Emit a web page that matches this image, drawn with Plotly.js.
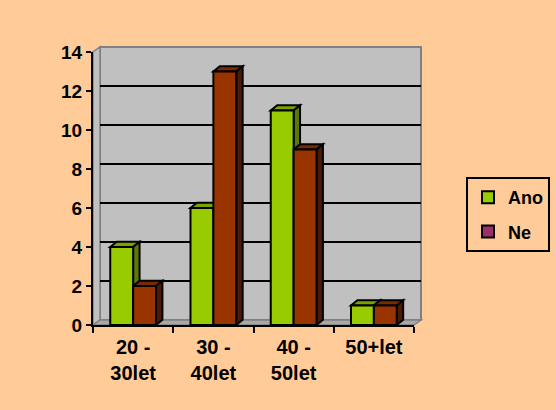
<!DOCTYPE html>
<html>
<head>
<meta charset="utf-8">
<script src="https://cdn.plot.ly/plotly-3.0.1.min.js"></script>
<style>
  html, body { margin: 0; padding: 0; background: #FFCC99; }
  #chart { width: 556px; height: 410px; }
</style>
</head>
<body>
<div id="chart"></div>
<script>
// Survey answers by age group
const categories = ['20 -<br>30let', '30 -<br>40let', '40 -<br>50let', '50+let'];
const seriesNames = ['Ano', 'Ne'];
const anoValues = [4, 6, 11, 1];
const neValues = [2, 13, 9, 1];
const yTickVals = [0, 2, 4, 6, 8, 10, 12, 14];

// Colours: front face, top face, side face
const styles = {
  Ano: { front: '#99CC00', top: '#7AA300', side: '#5C7A00', legend: '#99CC00' },
  Ne:  { front: '#993300', top: '#7A2900', side: '#4D1A00', legend: '#993366' }
};

// Plot frame (pixels) and the 3-D depth of the walls
const W = 556, H = 410;
const frame = { left: 93, right: 421, top: 46, bottom: 325 };
const pw = frame.right - frame.left, ph = frame.bottom - frame.top;
const depthX = 7, depthY = 5;             // wall offset in px
const frontTop = 52;                      // pixel row of the top front tick
const frontX = [0, (pw - depthX) / pw];
const frontY = [0, (frame.bottom - frontTop) / ph];
const backX = [depthX / pw, 1];
const backY = [depthY / ph, (frame.bottom - frontTop + depthY) / ph];

// Bar placement inside each category (category units)
const barWidth = 0.285;
const barOffset = { Ano: -barWidth, Ne: 0 };
const barDx = 0.08, barDy = 0.27;         // bar depth in axis units

const font = { family: 'Liberation Sans, Arial, sans-serif', size: 19, color: '#000', weight: 'bold' };
const xFont = Object.assign({}, font, { size: 20 });
const legendFont = Object.assign({}, font, { size: 18 });
const edge = { color: '#000', width: 2 };

const traces = [
  // keeps the back-wall subplot alive
  { type: 'scatter', x: [0], y: [null], xaxis: 'x', yaxis: 'y', showlegend: false, hoverinfo: 'skip' },
  {
    type: 'bar', name: 'Ano', x: categories, y: anoValues, xaxis: 'x2', yaxis: 'y2',
    width: barWidth, offset: barOffset.Ano, legendgroup: 'ano',
    marker: { color: styles.Ano.front, line: edge }
  },
  {
    type: 'bar', name: 'Ne', x: categories, y: neValues, xaxis: 'x2', yaxis: 'y2',
    width: barWidth, offset: barOffset.Ne, legendgroup: 'ne', showlegend: false,
    marker: { color: styles.Ne.front, line: edge }
  },
  // legend entry for Ne
  {
    type: 'bar', name: 'Ne', x: [null], y: [null], xaxis: 'x2', yaxis: 'y2', legendgroup: 'ne',
    marker: { color: styles.Ne.legend, line: edge }
  }
];

// Walls and floor in paper coordinates
const P = (a, b) => a + ',' + b;
const shapes = [
  { type: 'rect', xref: 'paper', yref: 'paper', layer: 'below',
    x0: backX[0], x1: backX[1], y0: backY[0], y1: backY[1],
    fillcolor: '#C0C0C0', line: { color: '#808080', width: 2 } },
  { type: 'path', xref: 'paper', yref: 'paper', layer: 'below',
    path: 'M' + P(0, 0) + ' L' + P(0, frontY[1]) + ' L' + P(backX[0], backY[1]) + ' L' + P(backX[0], backY[0]) + ' Z',
    fillcolor: '#C0C0C0', line: { color: '#808080', width: 1.5 } },
  { type: 'path', xref: 'paper', yref: 'paper', layer: 'below',
    path: 'M' + P(0, 0) + ' L' + P(frontX[1], 0) + ' L' + P(1, backY[0]) + ' L' + P(backX[0], backY[0]) + ' Z',
    fillcolor: '#A8A8A8', line: { color: '#808080', width: 1.5 } }
];

// Top and side faces of each bar, drawn under the front faces
function addDepth(name, values) {
  values.forEach((v, i) => {
    const xl = i + barOffset[name], xr = xl + barWidth;
    const common = { type: 'path', xref: 'x2', yref: 'y2', layer: 'between', line: edge };
    shapes.push(Object.assign({}, common, {
      path: 'M' + P(xl, v) + ' L' + P(xr, v) + ' L' + P(xr + barDx, v + barDy) + ' L' + P(xl + barDx, v + barDy) + ' Z',
      fillcolor: styles[name].top
    }));
    shapes.push(Object.assign({}, common, {
      path: 'M' + P(xr, 0) + ' L' + P(xr, v) + ' L' + P(xr + barDx, v + barDy) + ' L' + P(xr + barDx, barDy) + ' Z',
      fillcolor: styles[name].side
    }));
  });
}
addDepth('Ano', anoValues);
addDepth('Ne', neValues);

const layout = {
  width: W, height: H,
  margin: { l: frame.left, r: W - frame.right, t: frame.top, b: H - frame.bottom, pad: 0, autoexpand: false },
  paper_bgcolor: '#FFCC99',
  plot_bgcolor: 'rgba(0,0,0,0)',
  font: font,
  barmode: 'overlay',
  showlegend: true,
  // back wall with its grid
  xaxis: { domain: backX, anchor: 'y', range: [0, 1], visible: false, fixedrange: true },
  yaxis: { domain: backY, anchor: 'x', range: [0, 14], tickvals: [2, 4, 6, 8, 10, 12],
           showgrid: true, gridcolor: '#000', gridwidth: 2, zeroline: false,
           showticklabels: false, ticks: '', showline: false, fixedrange: true },
  // front axes carrying the bars
  xaxis2: { domain: frontX, anchor: 'y2', type: 'category', categoryarray: categories,
            range: [-0.5, 3.5], tickson: 'boundaries', ticks: 'outside', ticklen: 6, tickwidth: 2,
            tickcolor: '#000', showline: true, linecolor: '#000', linewidth: 2,
            showgrid: false, tickfont: xFont, ticklabelstandoff: 3, fixedrange: true },
  yaxis2: { domain: frontY, anchor: 'x2', range: [0, 14], tickvals: yTickVals,
            ticks: 'outside', ticklen: 5, tickwidth: 2, tickcolor: '#000',
            showline: true, linecolor: '#000', linewidth: 2, showgrid: false, zeroline: false,
            tickfont: font, fixedrange: true },
  legend: {
    x: (466 - frame.left) / pw, xanchor: 'left',
    y: (frame.bottom - 177) / ph, yanchor: 'top',
    bgcolor: 'rgba(0,0,0,0)', bordercolor: '#000', borderwidth: 2,
    font: legendFont, traceorder: 'grouped', tracegroupgap: 8
  },
  shapes: shapes
};

Plotly.newPlot('chart', traces, layout, { staticPlot: true, displayModeBar: false });
</script>
</body>
</html>
